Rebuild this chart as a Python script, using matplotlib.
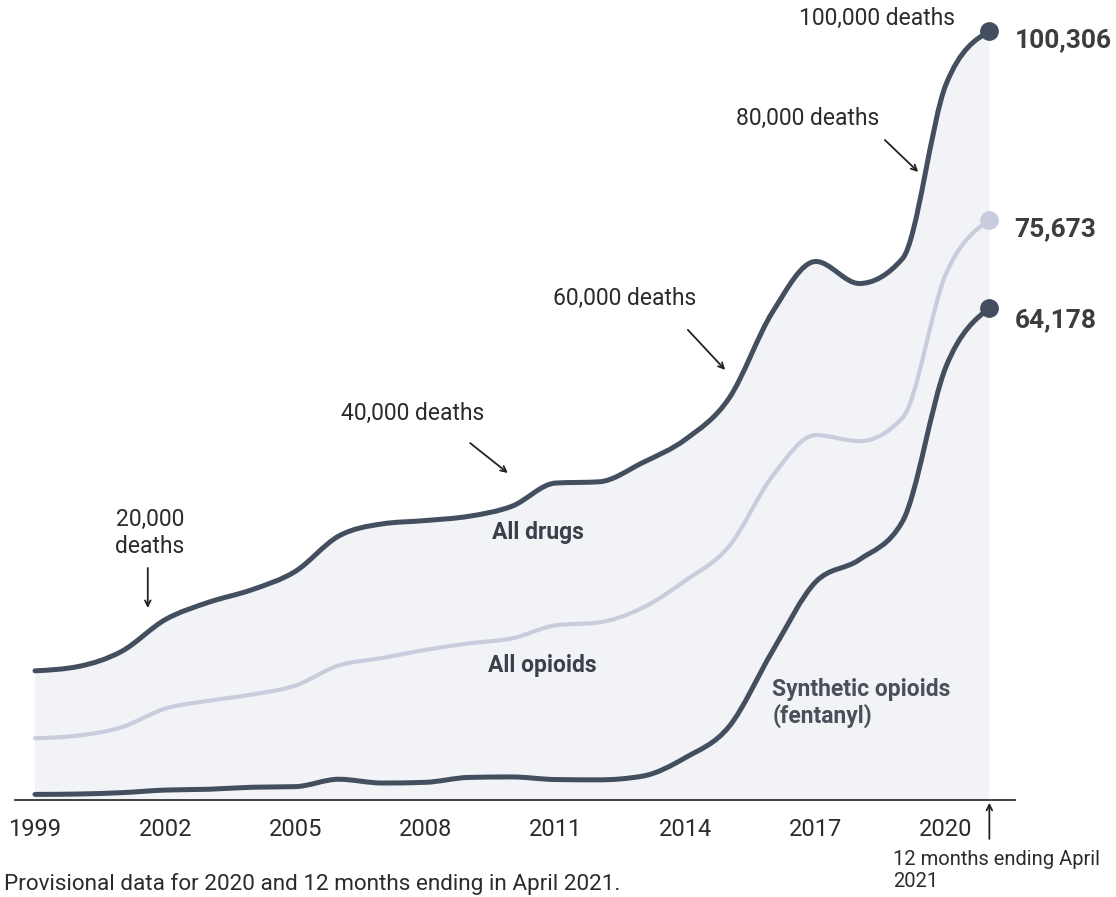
import numpy as np
import matplotlib.pyplot as plt
from matplotlib.path import Path
from matplotlib.patches import PathPatch

plt.rcParams['font.family'] = ['Roboto', 'DejaVu Sans']

# last point = 12 months ending April 2021 (provisional)
years = list(range(1999, 2022))
all_drugs = [16849, 17415, 19394, 23518, 25785, 27424, 29813, 34425, 36010, 36450,
             37004, 38329, 41340, 41502, 43982, 47055, 52404, 63632, 70237, 67367,
             70630, 93331, 100306]
all_opioids = [8050, 8407, 9496, 11920, 12940, 13756, 14918, 17545, 18516, 19582,
               20422, 21089, 22784, 23166, 25052, 28647, 33091, 42249, 47600, 46802,
               49860, 68630, 75673]
synthetic = [730, 782, 957, 1295, 1400, 1664, 1742, 2707, 2213, 2306,
             2946, 3007, 2666, 2628, 3105, 5544, 9580, 19413, 28466, 31335,
             36359, 56516, 64178]
tick_years = [1999, 2002, 2005, 2008, 2011, 2014, 2017, 2020]

DARK = '#434e5e'
LIGHT = '#c9ccdc'
FILL = '#f2f3f7'
TXT = '#2b2b2b'


def monotone_path(x, y, close=False):
    # smooth curve through the points (monotone cubic, like d3.curveMonotoneX)
    x = np.asarray(x, float)
    y = np.asarray(y, float)
    n = len(x)
    h = np.diff(x)
    s = np.diff(y) / h
    t = np.zeros(n)
    for i in range(1, n - 1):
        p = (s[i - 1] * h[i] + s[i] * h[i - 1]) / (h[i - 1] + h[i])
        t[i] = (np.sign(s[i - 1]) + np.sign(s[i])) * min(abs(s[i - 1]), abs(s[i]), 0.5 * abs(p))
    t[0] = (3 * s[0] - t[1]) / 2
    t[-1] = (3 * s[-1] - t[-2]) / 2
    verts = [(x[0], y[0])]
    codes = [Path.MOVETO]
    for i in range(n - 1):
        d = h[i] / 3
        verts += [(x[i] + d, y[i] + d * t[i]), (x[i + 1] - d, y[i + 1] - d * t[i + 1]),
                  (x[i + 1], y[i + 1])]
        codes += [Path.CURVE4] * 3
    if close:
        verts += [(x[-1], 0), (x[0], 0), (x[0], y[0])]
        codes += [Path.LINETO, Path.LINETO, Path.CLOSEPOLY]
    return Path(verts, codes)


fig = plt.figure(figsize=(11.16, 8.97), dpi=100)
ax = fig.add_axes([15 / 1116, 97 / 897, 1000 / 1116, 800 / 897])
ax.set_xlim(1999 - 20 / 43.38, 1999 + 980 / 43.38)
ax.set_ylim(0, 800 * 130.43)

ax.add_patch(PathPatch(monotone_path(years, all_drugs, close=True), fc=FILL, ec='none', zorder=1))
ax.add_patch(PathPatch(monotone_path(years, all_opioids), fc='none', ec=LIGHT, lw=3.0,
                       capstyle='round', zorder=2))
ax.add_patch(PathPatch(monotone_path(years, synthetic), fc='none', ec=DARK, lw=3.6,
                       capstyle='round', zorder=3))
ax.add_patch(PathPatch(monotone_path(years, all_drugs), fc='none', ec=DARK, lw=3.6,
                       capstyle='round', zorder=3))

ax.plot(years[-1], all_drugs[-1], 'o', ms=12.5, color=DARK, zorder=4)
ax.plot(years[-1], all_opioids[-1], 'o', ms=12.5, color=LIGHT, zorder=4)
ax.plot(years[-1], synthetic[-1], 'o', ms=12.5, color=DARK, zorder=4)

for val, dy in [(all_drugs[-1], -7), (all_opioids[-1], -7), (synthetic[-1], -9)]:
    ax.annotate(f'{val:,}', (years[-1], val), xytext=(18, dy), textcoords='offset points',
                ha='left', va='center', fontsize=19, fontweight='bold', color='#3d3d3d')

# series labels
ax.text(2010.6, 34830, 'All drugs', ha='center', va='center', fontsize=16.5,
        fontweight='bold', color='#3a3f4a')
ax.text(2010.7, 17480, 'All opioids', ha='center', va='center', fontsize=16.5,
        fontweight='bold', color='#3a3f4a')
ax.text(2016.0, 12650, 'Synthetic opioids\n(fentanyl)', ha='left', va='center',
        fontsize=16.5, fontweight='bold', color='#4a4f5a', linespacing=1.15)

# milestone notes
arrow = dict(arrowstyle='->', color='#222222', lw=1.3, shrinkA=0, shrinkB=0)
ax.text(2018.41, 101870, '100,000 deaths', ha='center', va='center', fontsize=16.5, color=TXT)
ax.annotate('', (2019.36, 81920), xytext=(2018.59, 86090), arrowprops=arrow)
ax.text(2016.82, 88950, '80,000 deaths', ha='center', va='center', fontsize=16.5, color=TXT)
ax.annotate('', (2014.91, 56100), xytext=(2014.05, 61320), arrowprops=arrow)
ax.text(2012.60, 65350, '60,000 deaths', ha='center', va='center', fontsize=16.5, color=TXT)
ax.annotate('', (2009.90, 42650), xytext=(2009.03, 46560), arrowprops=arrow)
ax.text(2007.71, 50480, '40,000 deaths', ha='center', va='center', fontsize=16.5, color=TXT)
ax.annotate('', (2001.60, 25040), xytext=(2001.60, 30260), arrowprops=arrow)
ax.text(2001.65, 34830, '20,000\ndeaths', ha='center', va='center', fontsize=16.5,
        color=TXT, linespacing=1.2)

# axis
for side in ['left', 'right', 'top']:
    ax.spines[side].set_visible(False)
ax.spines['bottom'].set_color('#333333')
ax.spines['bottom'].set_linewidth(1.3)
ax.set_yticks([])
ax.set_xticks(tick_years)
ax.set_xticklabels([str(y) for y in tick_years])
ax.tick_params(axis='x', length=0, pad=13, labelsize=17, labelcolor='#2b2b2b')

ax.annotate('', (years[-1], 0), xytext=(0, -28), xycoords='data', textcoords='offset points',
            arrowprops=dict(arrowstyle='->', color='#222222', lw=1.3, shrinkA=0, shrinkB=2),
            annotation_clip=False)
fig.text(893 / 1116, 1 - 870 / 897, '12 months ending April\n2021', ha='left', va='center',
         fontsize=14.5, color=TXT, linespacing=1.2)

fig.text(4 / 1116, 1 - 884 / 897,
         'Provisional data for 2020 and 12 months ending in April 2021.',
         ha='left', va='center', fontsize=16.2, color=TXT)

fig.savefig('out.png', dpi=100, facecolor='white')
